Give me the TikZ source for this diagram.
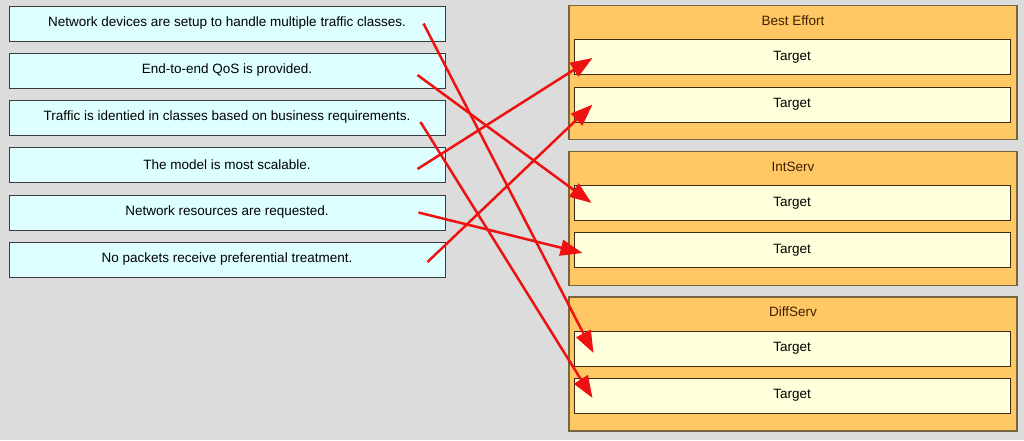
\documentclass[tikz,border=0pt]{standalone}
\usepackage{fontspec}
\setmainfont{Liberation Sans}
\usetikzlibrary{arrows.meta}
\definecolor{bgc}{HTML}{DCDCDC}
\definecolor{srcfill}{HTML}{DDFFFF}
\definecolor{srcdraw}{HTML}{3A3A3A}
\definecolor{grpfill}{HTML}{FFC864}
\definecolor{grpdraw}{HTML}{76653F}
\definecolor{tgtfill}{HTML}{FFFFDC}
\definecolor{tgtdraw}{HTML}{3A2C12}
\definecolor{ttl}{HTML}{402000}
\definecolor{arr}{HTML}{EE1111}
\tikzset{
  srcbox/.style={draw=srcdraw, fill=srcfill, line width=1pt, minimum width=436pt, minimum height=35pt, inner sep=0pt, font=\fontsize{13.5}{16}\selectfont, text=black},
  grpbox/.style={draw=grpdraw, fill=grpfill, line width=1.2pt, minimum width=448pt, minimum height=134pt, inner sep=0pt},
  tgtbox/.style={draw=tgtdraw, fill=tgtfill, line width=1pt, minimum width=436pt, minimum height=35pt, inner sep=0pt, font=\fontsize{13.5}{16}\selectfont, text=black},
  grptitle/.style={font=\fontsize{13.5}{16}\selectfont, text=ttl, inner sep=0pt},
  link/.style={draw=arr, line width=2.5pt, -{Triangle[length=22pt,width=16pt]}}
}
\begin{document}
\begin{tikzpicture}[x=1pt,y=-1pt]
\fill[bgc] (0,0) rectangle (1024,440);
\useasboundingbox (0,0) rectangle (1024,440);
% left items
\node[srcbox] (l1) at (227,23.5) {Network devices are setup to handle multiple traffic classes.};
\node[srcbox] (l2) at (227,70.5) {End-to-end QoS is provided.};
\node[srcbox] (l3) at (227,117.5) {Traffic is identied in classes based on business requirements.};
\node[srcbox] (l4) at (227,164.5) {The model is most scalable.};
\node[srcbox] (l5) at (227,212.5) {Network resources are requested.};
\node[srcbox] (l6) at (227,259.5) {No packets receive preferential treatment.};
% groups
\node[grpbox] (g1) at (793,72.5) {};
\node[grpbox] (g2) at (793,218.5) {};
\node[grpbox] (g3) at (793,364) {};
\node[grptitle] (g1t) at (793,21) {Best Effort};
\node[grptitle] (g2t) at (793,167) {IntServ};
\node[grptitle] (g3t) at (793,312) {DiffServ};
\node[tgtbox] (t1) at (792,57) {Target};
\node[tgtbox] (t2) at (792,104.5) {Target};
\node[tgtbox] (t3) at (792,203) {Target};
\node[tgtbox] (t4) at (792,250) {Target};
\node[tgtbox] (t5) at (792,348.5) {Target};
\node[tgtbox] (t6) at (792,395.5) {Target};
% connectors
\draw[link] ([xshift=-22pt]l1.east) -- ([xshift=20pt,yshift=-4.5pt]t5.west);
\draw[link] ([xshift=-28pt,yshift=-4.5pt]l2.east) -- ([xshift=18pt]t3.west);
\draw[link] ([xshift=-25pt,yshift=-4.5pt]l3.east) -- ([xshift=19pt,yshift=-2.5pt]t6.west);
\draw[link] ([xshift=-28pt,yshift=-4.5pt]l4.east) -- ([xshift=19pt,yshift=-1pt]t1.west);
\draw[link] ([xshift=-27pt]l5.east) -- ([xshift=9pt,yshift=-3pt]t4.west);
\draw[link] ([xshift=-18pt,yshift=-2.5pt]l6.east) -- ([xshift=19pt]t2.west);
\end{tikzpicture}
\end{document}
